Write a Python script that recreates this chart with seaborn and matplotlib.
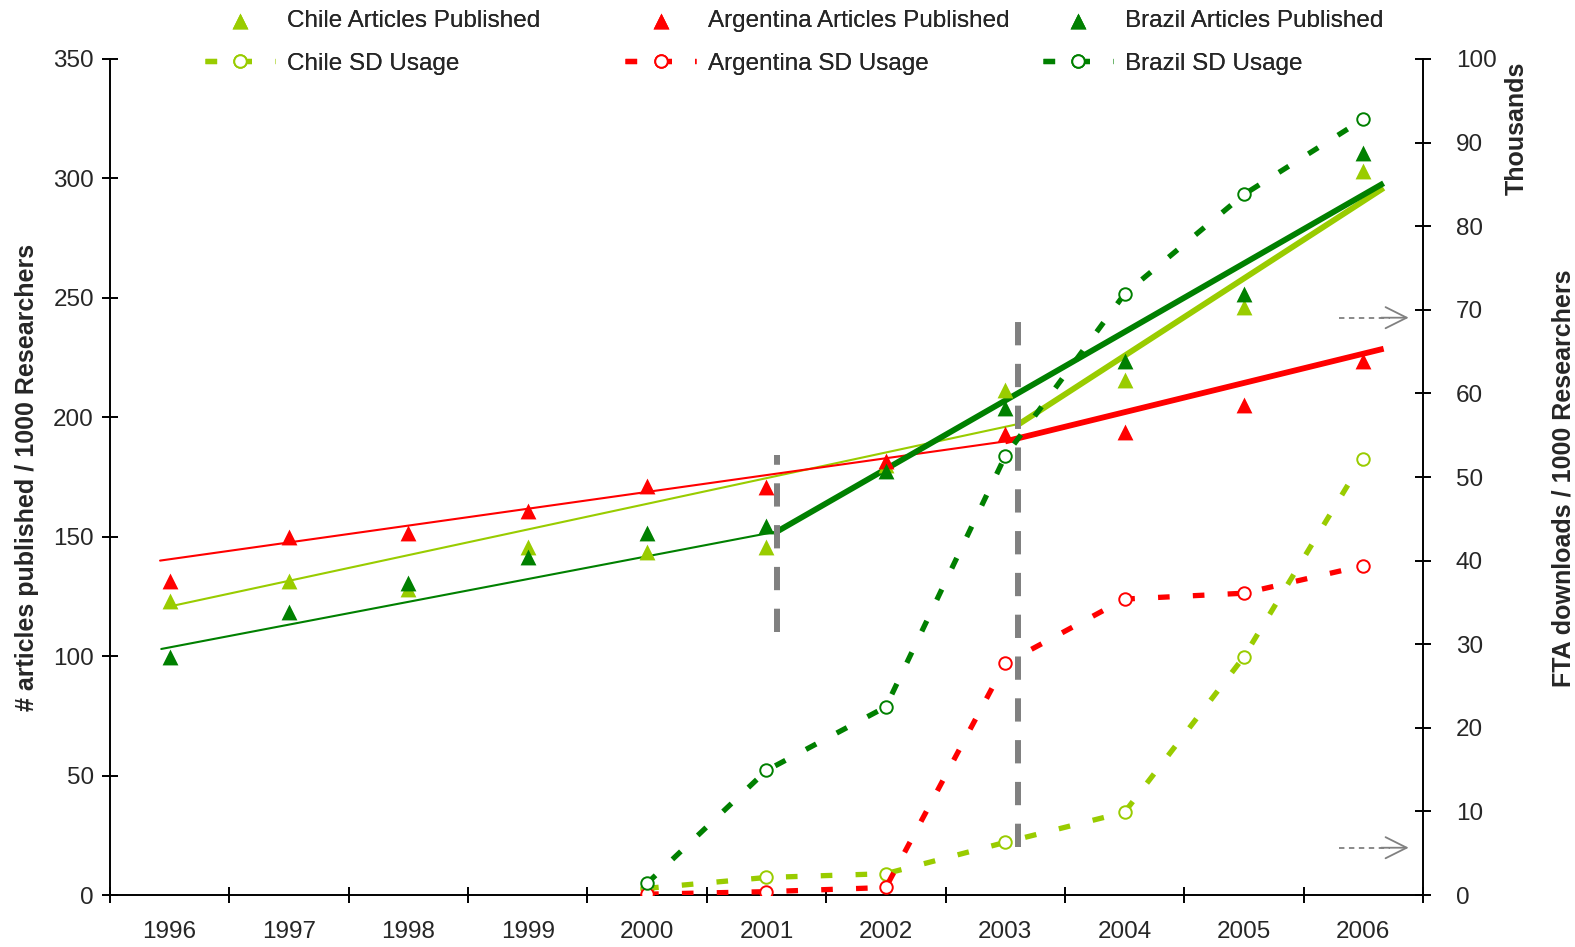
import numpy as np
import pandas as pd
import seaborn as sns
import matplotlib.pyplot as plt

# categories
years = ['1996', '1997', '1998', '1999', '2000', '2001',
         '2002', '2003', '2004', '2005', '2006']

# articles published / 1000 researchers (left axis)
chile_articles = [123, 131.5, 128, 145.8, 143.7, 145.8, 180, 211.6, 215.7, 246, 303]
argentina_articles = [131.5, 150, 151.7, 160.9, 171.3, 170.9, 181.5, 193, 194, 205, 223.7]
brazil_articles = [99.5, 118.6, 130.7, 141.6, 151.7, 154.6, 177.5, 204, 223.7, 251.8, 310.8]

# SD usage, thousands of FTA downloads / 1000 researchers (right axis)
sd_years = years[4:]
chile_sd = [0.8, 2.1, 2.55, 6.3, 9.9, 28.5, 52.1]
argentina_sd = [0.1, 0.4, 0.9, 27.7, 35.4, 36.1, 39.4]
brazil_sd = [1.4, 14.9, 22.5, 52.5, 71.9, 83.8, 92.8]

# trend lines (category position, value): thin segment then thick segment
chile_trend_x = [0.0, 7.12, 10.17]
chile_trend_y = [120.8, 197.3, 296]
argentina_trend_x = [-0.08, 7.0, 10.17]
argentina_trend_y = [140, 189.9, 228.7]
brazil_trend_x = [-0.07, 5.09, 10.17]
brazil_trend_y = [103, 152.2, 298]

# vertical break markers and arrows
break_x = [5.09, 7.11]
break_lo = [110, 20.2]
break_hi = [184.3, 241.7]
arrow_y = [241.7, 19.8]

countries = ['Chile', 'Argentina', 'Brazil']
colors = {'Chile': '#99CC00', 'Argentina': '#FF0000', 'Brazil': '#008000'}

sns.set_theme(style='white')
plt.rcParams['font.family'] = ['Liberation Sans', 'DejaVu Sans']

pos = {y: i for i, y in enumerate(years)}
art = pd.DataFrame({
    'year': years * 3,
    'value': chile_articles + argentina_articles + brazil_articles,
    'country': sum([[c] * len(years) for c in countries], []),
})
art['x'] = art['year'].map(pos)
sd = pd.DataFrame({
    'year': sd_years * 3,
    'value': chile_sd + argentina_sd + brazil_sd,
    'country': sum([[c] * len(sd_years) for c in countries], []),
})
sd['x'] = sd['year'].map(pos)

trends = {
    'Chile': (chile_trend_x, chile_trend_y),
    'Argentina': (argentina_trend_x, argentina_trend_y),
    'Brazil': (brazil_trend_x, brazil_trend_y),
}

fig = plt.figure(figsize=(15.75, 9.47), dpi=100)
ax = fig.add_axes([0.0698, 0.0549, 0.8337, 0.8828])
ax2 = ax.twinx()

for c in countries:
    tx, ty = trends[c]
    ax.plot(tx[:2], ty[:2], color=colors[c], lw=1.5, zorder=2)
    ax.plot(tx[1:], ty[1:], color=colors[c], lw=4.2, zorder=2, solid_capstyle='butt')

legend_items = {}
for c in countries:
    sub = art[art['country'] == c]
    sns.scatterplot(data=sub, x='x', y='value', ax=ax, marker='^', s=130,
                    color=colors[c], linewidth=0, zorder=4, legend=False)
    sub2 = sd[sd['country'] == c]
    sns.lineplot(data=sub2, x='x', y='value', ax=ax2, color=colors[c],
                 lw=3.8, linestyle=(0, (2.2, 4.4)), marker='o', markersize=9,
                 markerfacecolor='white', markeredgecolor=colors[c],
                 markeredgewidth=1.4, legend=False)
    legend_items[c] = (ax.collections[-1], ax2.lines[-1])

for bx, lo, hi in zip(break_x, break_lo, break_hi):
    ax.plot([bx, bx], [lo, hi], color='#808080', lw=4.3,
            linestyle=(0, (3.9, 3.1)), zorder=3)

for ay in arrow_y:
    ax.plot([9.8, 10.22], [ay, ay], color='#808080', lw=1.3, linestyle=(0, (3, 2.5)))
    ax.annotate('', xy=(10.38, ay), xytext=(10.15, ay),
                arrowprops=dict(arrowstyle='->', color='#808080', lw=1.3,
                                mutation_scale=38, shrinkA=0, shrinkB=0))

ax.set_xlim(-0.5, 10.5)
ax.set_ylim(0, 350)
ax2.set_ylim(0, 100)
ax.set_yticks(range(0, 351, 50))
ax2.set_yticks(range(0, 101, 10))
ax.set_xticks(range(len(years)))
ax.set_xticklabels(years)
ax.set_xticks(np.arange(-0.5, 11, 1), minor=True)
ax.set_xlabel('')
ax.set_ylabel('# articles published / 1000 Researchers', fontsize=18,
              fontweight='bold', labelpad=10)
ax2.set_ylabel('')

for a in (ax, ax2):
    a.spines['top'].set_visible(False)
    for s in a.spines.values():
        s.set_linewidth(1.4)
        s.set_color('black')
ax.spines['right'].set_visible(False)
ax2.spines['left'].set_visible(False)
ax2.spines['bottom'].set_visible(False)

ax.tick_params(axis='x', which='major', length=0, labelsize=17.5, pad=19)
ax.tick_params(axis='x', which='minor', direction='inout', length=11, width=1.4,
               color='black', bottom=True)
ax.tick_params(axis='y', direction='inout', length=11, width=1.4, labelsize=17.5,
               pad=6, color='black', left=True)
ax2.tick_params(axis='y', direction='inout', length=11, width=1.4, labelsize=17.5,
                pad=18, color='black', right=True)

fig.text(0.963, 0.935, 'Thousands', rotation=90, fontsize=18, fontweight='bold',
         ha='center', va='top')
fig.text(0.993, 0.495, 'FTA downloads / 1000 Researchers', rotation=90,
         fontsize=18, fontweight='bold', ha='center', va='center')

# one two-row legend block per country, evenly spaced like the original
legend_x = [0.130, 0.397, 0.662]
for c, lx in zip(countries, legend_x):
    h_art, h_sd = legend_items[c]
    leg = fig.legend([h_art, h_sd], [f'{c} Articles Published', f'{c} SD Usage'],
                     loc='upper left', bbox_to_anchor=(lx, 0.9894),
                     frameon=False, fontsize=17.5, handlelength=2.9,
                     handletextpad=0.5, labelspacing=0.85, borderpad=0,
                     borderaxespad=0)
    fig.add_artist(leg)

fig.savefig('out.png', dpi=100)
